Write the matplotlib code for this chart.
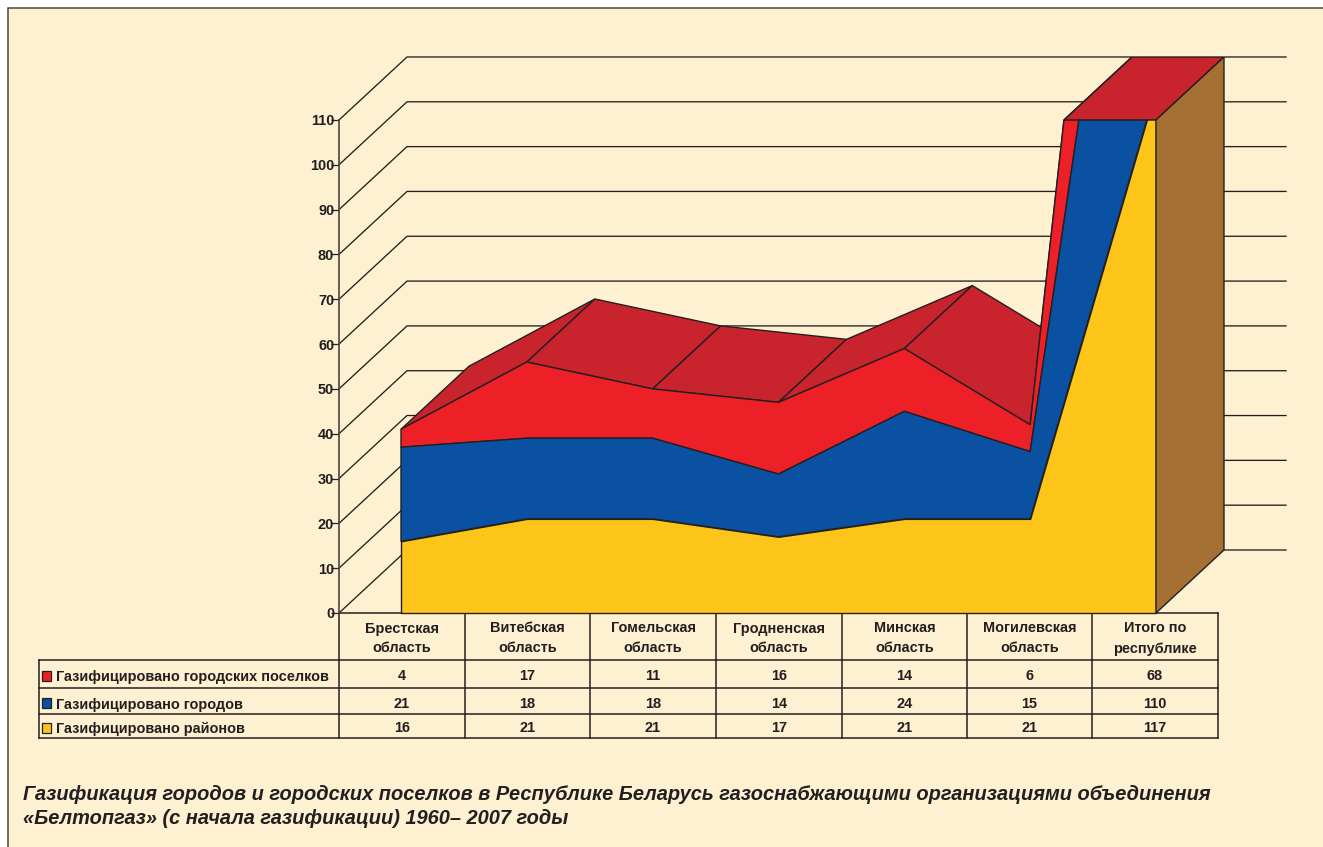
import numpy as np
import matplotlib
matplotlib.use("Agg")
import matplotlib.pyplot as plt
from matplotlib.patches import Rectangle, Polygon

plt.rcParams['font.family'] = ['Liberation Sans', 'DejaVu Sans']

# --- DATA ---
regions = ["Брестская\nобласть", "Витебская\nобласть", "Гомельская\nобласть",
           "Гродненская\nобласть", "Минская\nобласть", "Могилевская\nобласть",
           "Итого по\nреспублике"]
towns = [4, 17, 11, 16, 14, 6, 68]
cities = [21, 18, 18, 14, 24, 15, 110]
districts = [16, 21, 21, 17, 21, 21, 117]
row_names = ["Газифицировано городских поселков", "Газифицировано городов", "Газифицировано районов"]
y_ticks = [0, 10, 20, 30, 40, 50, 60, 70, 80, 90, 100, 110]
caption = ["Газификация городов и городских поселков в Республике Беларусь газоснабжающими организациями объединения",
           "«Белтопгаз» (с начала газификации) 1960– 2007 годы"]

# --- COLORS ---
BG = '#FEF1D2'
INK = '#231F20'
YELLOW = '#FDC519'
BLUE = '#0A51A1'
RED = '#EE2027'
DARK_RED = '#C9232E'
BROWN = '#A57033'
row_colors = [RED, BLUE, YELLOW]

# figure is laid out in pixels of the original picture
W, H = 1323, 847
fig = plt.figure(figsize=(W / 100, H / 100), dpi=100, facecolor='white')

# --- BACKGROUND + TABLE (pixel coordinates) ---
page = fig.add_axes([0, 0, 1, 1], zorder=0)
page.set_xlim(0, W)
page.set_ylim(H, 0)
page.axis('off')
page.add_patch(Rectangle((8, 8), W, H, facecolor=BG, edgecolor='#4a4640', linewidth=1.1))

col_x = [339, 465, 590, 716, 842, 967, 1092, 1218]
row_y = [613, 660, 688, 714, 738]
for x in col_x:
    page.plot([x, x], [row_y[0], row_y[-1]], color=INK, lw=1.1, solid_capstyle='projecting')
for i, y in enumerate(row_y):
    page.plot([339 if i == 0 else 39, 1218], [y, y], color=INK, lw=1.1, solid_capstyle='projecting')
page.plot([39, 39], [row_y[1], row_y[-1]], color=INK, lw=1.1)

TXT = 10.45
for i, name in enumerate(regions):
    cx = (col_x[i] + col_x[i + 1]) / 2
    line1, line2 = name.split("\n")
    page.text(cx, 628.5, line1, ha='center', va='center', fontsize=TXT, fontweight='bold', color=INK)
    page.text(cx, 648.5, line2, ha='center', va='center', fontsize=TXT, fontweight='bold', color=INK)

table_rows = [towns, cities, districts]
for r, vals in enumerate(table_rows):
    cy = (row_y[r + 1] + row_y[r + 2]) / 2 + 0.5
    page.add_patch(Rectangle((42, cy - 3), 9, 10, facecolor=row_colors[r], edgecolor=INK, linewidth=0.9))
    page.text(56, cy + 3, row_names[r], ha='left', va='center', fontsize=TXT, fontweight='bold', color=INK)
    for i, v in enumerate(vals):
        page.text((col_x[i] + col_x[i + 1]) / 2, cy + 2, str(v), ha='center', va='center',
                  fontsize=TXT, fontweight='bold', color=INK)

page.text(23, 795, caption[0], ha='left', va='center', fontsize=14.4, fontweight='bold',
          fontstyle='italic', color=INK)
page.text(23, 819, caption[1], ha='left', va='center', fontsize=14.4, fontweight='bold',
          fontstyle='italic', color=INK)

# --- CHART ---
x0_px, x_step = 401, 125.83
y0_px, y_step = 613, 4.482
left_px, right_px, top_px = 339, 1286, 57

ax = fig.add_axes([left_px / W, 1 - y0_px / H, (right_px - left_px) / W, (y0_px - top_px) / H], zorder=1)
ax.patch.set_alpha(0)
ax.set_xlim((left_px - x0_px) / x_step, (right_px - x0_px) / x_step)
ax.set_ylim(0, (y0_px - top_px) / y_step)
xmin, xmax = ax.get_xlim()

# depth of the fake 3D box
dx = 68 / x_step
dy = 63 / y_step

x = np.arange(len(regions))
s1 = np.array(districts, dtype=float)
s2 = s1 + np.array(cities)
s3 = s2 + np.array(towns)
y_max = y_ticks[-1]

# back wall grid
for v in y_ticks:
    ax.plot([xmin, xmin + dx, xmax], [v, v + dy, v + dy], color=INK, lw=0.95, zorder=1, clip_on=False)


def clip_top(artist):
    artist.set_clip_path(Rectangle((xmin, -5), xmax - xmin, y_max + 5, transform=ax.transData))


# where the last slope leaves the scale
crossing = x[-2] + (y_max - s3[-2]) / (s3[-1] - s3[-2])

# top surface, back to front
top_x = list(x[:-1]) + [crossing]
top_y = list(s3[:-1]) + [y_max]
for i in range(len(top_x) - 1):
    ax.add_patch(Polygon([(top_x[i], top_y[i]), (top_x[i + 1], top_y[i + 1]),
                          (top_x[i + 1] + dx, top_y[i + 1] + dy), (top_x[i] + dx, top_y[i] + dy)],
                         facecolor=DARK_RED, edgecolor=INK, linewidth=1.0, zorder=2))

# front faces
for lower, upper, color in [(s2, s3, RED), (s1, s2, BLUE), (0 * s1, s1, YELLOW)]:
    poly = ax.fill_between(x, lower, upper, facecolor=color, edgecolor=INK, linewidth=1.0, zorder=3)
    clip_top(poly)

# lid and right side of the box
ax.add_patch(Polygon([(crossing, y_max), (x[-1], y_max), (x[-1] + dx, y_max + dy), (crossing + dx, y_max + dy)],
                     facecolor=DARK_RED, edgecolor=INK, linewidth=1.1, zorder=4))
ax.add_patch(Polygon([(x[-1], 0), (x[-1] + dx, dy), (x[-1] + dx, y_max + dy), (x[-1], y_max)],
                     facecolor=BROWN, edgecolor=INK, linewidth=1.0, zorder=4))

for side in ['top', 'right', 'bottom']:
    ax.spines[side].set_visible(False)
ax.spines['left'].set_bounds(0, y_max)
ax.spines['left'].set_color('#4a4640')
ax.spines['left'].set_linewidth(1.2)
ax.set_xticks([])
ax.set_yticks(y_ticks)
ax.set_yticklabels([str(v) for v in y_ticks], fontsize=TXT, fontweight='bold', color=INK)
ax.tick_params(axis='y', length=5.5, width=0.9, color=INK, pad=-2)

plt.savefig("out.png", dpi=100, facecolor=fig.get_facecolor())
